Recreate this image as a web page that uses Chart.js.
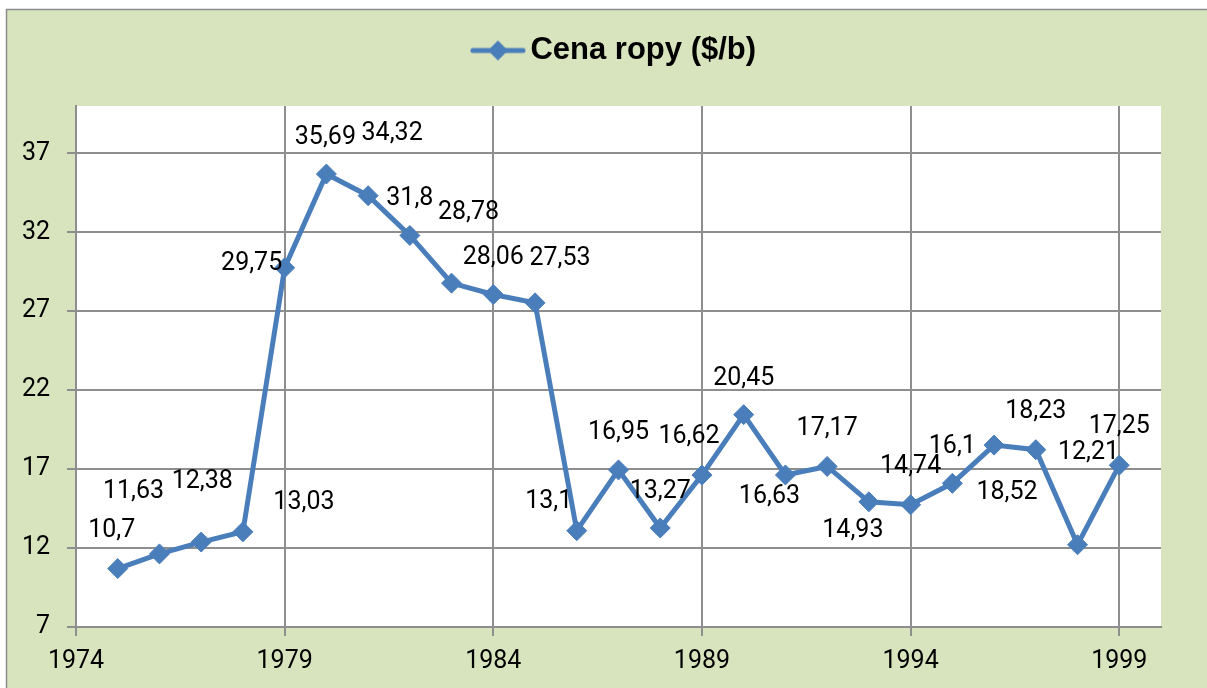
<!DOCTYPE html>
<html>
<head>
<meta charset="utf-8">
<script src="https://cdn.jsdelivr.net/npm/chart.js@4/dist/chart.umd.min.js"></script>
<style>
  html, body { margin: 0; padding: 0; background: #ffffff; }
  #wrap { position: relative; width: 1207px; height: 688px; }
</style>
</head>
<body>
<div id="wrap"><canvas id="c" width="1207" height="688"></canvas></div>
<script>
// ---- data ----
const years = [1975, 1976, 1977, 1978, 1979, 1980, 1981, 1982, 1983, 1984, 1985, 1986, 1987,
               1988, 1989, 1990, 1991, 1992, 1993, 1994, 1995, 1996, 1997, 1998, 1999];
const prices = [10.7, 11.63, 12.38, 13.03, 29.75, 35.69, 34.32, 31.8, 28.78, 28.06, 27.53, 13.1, 16.95,
                13.27, 16.62, 20.45, 16.63, 17.17, 14.93, 14.74, 16.1, 18.52, 18.23, 12.21, 17.25];
const xTicks = [1974, 1979, 1984, 1989, 1994, 1999];
const yTicks = [7, 12, 17, 22, 27, 32, 37];
const seriesName = 'Cena ropy ($/b)';

// ---- label placement (style: pixel offsets of each value label from its point) ----
const labelDX = [-6, -26, 1, 61, -33, -1, 24, 0, 17, 0, 25, -28, 0, 0, -13, 0, -16, 0, -16, 0, 0, 13, 0, 11, 0];
const labelDY = [-38, -62, -60, -29, -4, -36, -62, -37, -70, -37, -44, -29, -37, -36, -38, -36, 22, -38, 29, -38, -37, 48, -38, -92, -38];

const BLUE = '#4a7ebb';
const GRID = '#8e8e8e';
const TXT_FONT = "Roboto, 'DejaVu Sans Condensed', sans-serif";
const TXT_SIZE = 25;

// legend symbol: line with diamond
const sym = document.createElement('canvas');
sym.width = 56; sym.height = 22;
(function () {
  const g = sym.getContext('2d');
  g.strokeStyle = BLUE; g.lineWidth = 5; g.lineCap = 'round';
  g.beginPath(); g.moveTo(3, 11); g.lineTo(53, 11); g.stroke();
  g.fillStyle = BLUE;
  g.beginPath(); g.moveTo(28, 1); g.lineTo(38, 11); g.lineTo(28, 21); g.lineTo(18, 11); g.closePath(); g.fill();
})();

const bgPlugin = {
  id: 'bg',
  beforeDraw(chart) {
    const ctx = chart.ctx, a = chart.chartArea;
    ctx.save();
    ctx.fillStyle = '#ffffff';
    ctx.fillRect(0, 0, chart.width, chart.height);
    ctx.fillStyle = '#d7e4bd';
    ctx.fillRect(6, 9, chart.width - 6, chart.height - 9);
    ctx.strokeStyle = '#8c8c8c';
    ctx.lineWidth = 1.5;
    ctx.beginPath();
    ctx.moveTo(6.5, chart.height); ctx.lineTo(6.5, 9.5); ctx.lineTo(chart.width, 9.5);
    ctx.stroke();
    ctx.fillStyle = '#ffffff';
    ctx.fillRect(a.left, a.top, a.right - a.left, a.bottom - a.top);
    ctx.restore();
  }
};

const labelPlugin = {
  id: 'vlabels',
  afterDatasetsDraw(chart) {
    const ctx = chart.ctx;
    const meta = chart.getDatasetMeta(0);
    ctx.save();
    ctx.font = TXT_SIZE + "px " + TXT_FONT;
    ctx.fillStyle = '#000000';
    ctx.textAlign = 'center';
    ctx.textBaseline = 'middle';
    meta.data.forEach((pt, i) => {
      const txt = String(prices[i]).replace('.', ',');
      ctx.fillText(txt, pt.x + labelDX[i], pt.y + labelDY[i]);
    });
    ctx.restore();
  }
};

new Chart(document.getElementById('c'), {
  type: 'line',
  data: {
    datasets: [{
      label: seriesName,
      data: years.map((y, i) => ({ x: y, y: prices[i] })),
      borderColor: BLUE,
      backgroundColor: BLUE,
      borderWidth: 5,
      tension: 0,
      pointStyle: 'rectRot',
      pointRadius: 10,
      pointBorderWidth: 1,
      pointBackgroundColor: BLUE,
      pointBorderColor: BLUE
    }]
  },
  options: {
    responsive: false,
    animation: false,
    devicePixelRatio: 1,
    layout: { padding: { left: 0, right: 46, top: 25, bottom: 0 } },
    plugins: {
      legend: {
        display: true,
        position: 'top',
        fullSize: false,
        weight: 3000,
        labels: {
          usePointStyle: true,
          pointStyle: sym,
          pointStyleWidth: 34,
          padding: 10,
          color: '#000000',
          font: { family: "'Liberation Sans', Arial, sans-serif", size: 31, weight: 'bold' },
          generateLabels(chart) {
            return [{ text: seriesName, pointStyle: sym, fillStyle: BLUE, strokeStyle: BLUE, lineWidth: 0, datasetIndex: 0, fontColor: '#000000' }];
          }
        }
      },
      title: {
        display: true,
        text: '',
        fullSize: false,
        weight: 2000,
        position: 'top',
        padding: { top: 0, bottom: 20 },
        font: { size: 10, lineHeight: 1 }
      },
      tooltip: { enabled: false }
    },
    scales: {
      x: {
        type: 'linear',
        min: 1974,
        max: 2000,
        afterBuildTicks(scale) { scale.ticks = xTicks.map(v => ({ value: v })); },
        afterFit(scale) { scale.height = 61; },
        ticks: {
          color: '#000000',
          font: { family: TXT_FONT, size: TXT_SIZE },
          padding: 11,
          maxRotation: 0,
          autoSkip: false,
          callback: (v) => String(v)
        },
        grid: { color: GRID, lineWidth: 2, tickLength: 9, drawTicks: true },
        border: { color: GRID, width: 2 }
      },
      y: {
        type: 'linear',
        min: 7,
        max: 40,
        afterBuildTicks(scale) { scale.ticks = yTicks.map(v => ({ value: v })); },
        afterFit(scale) { scale.width = 76; },
        ticks: {
          color: '#000000',
          font: { family: TXT_FONT, size: TXT_SIZE },
          padding: 17,
          autoSkip: false,
          callback: (v) => String(v)
        },
        grid: { color: GRID, lineWidth: 2, tickLength: 9, drawTicks: true },
        border: { color: GRID, width: 2 }
      }
    }
  },
  plugins: [bgPlugin, labelPlugin]
});
</script>
</body>
</html>
